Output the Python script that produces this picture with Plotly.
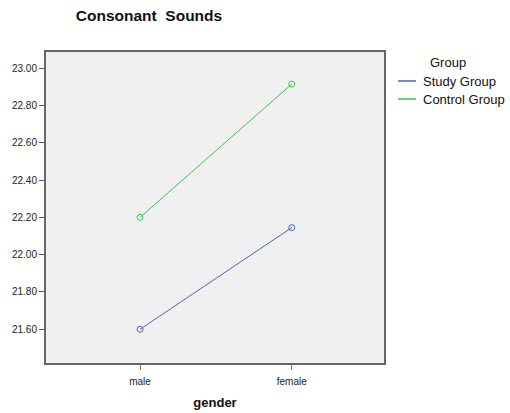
import plotly.graph_objects as go

genders = ["male", "female"]
series_names = ["Study Group", "Control Group"]
study_group = [21.60, 22.145]
control_group = [22.20, 22.915]
colors = ["#4a62c4", "#3cc24a"]
y_ticks = [21.6, 21.8, 22.0, 22.2, 22.4, 22.6, 22.8, 23.0]
y_tick_labels = ["21.60", "21.80", "22.00", "22.20", "22.40", "22.60", "22.80", "23.00"]

W, H = 510, 413
L, R, T, B = 46, 126, 52, 50
pw, ph = W - L - R, H - T - B

def px(x):
    return (x - L) / pw

def py(y):
    return (H - B - y) / ph

fig = go.Figure()
for name, vals, col in zip(series_names, [study_group, control_group], colors):
    fig.add_trace(go.Scatter(
        x=[0, 1], y=vals, name=name, mode="lines+markers", showlegend=False,
        line=dict(color=col, width=1),
        marker=dict(symbol="circle-open", size=6, color=col, line=dict(width=1)),
    ))

shapes = []
annotations = [dict(text="Group", x=px(448), y=py(62), xref="paper", yref="paper",
                    xanchor="center", yanchor="middle", showarrow=False,
                    font=dict(size=13, color="#111"))]
for i, (name, col) in enumerate(zip(series_names, colors)):
    yy = 81 + 18 * i
    shapes.append(dict(type="line", xref="paper", yref="paper",
                       x0=px(398), x1=px(416), y0=py(yy), y1=py(yy),
                       line=dict(color=col, width=1.5)))
    annotations.append(dict(text=name, x=px(421), y=py(yy + 0.5), xref="paper", yref="paper",
                            xanchor="left", yanchor="middle", showarrow=False,
                            font=dict(size=13, color="#111")))

fig.update_layout(
    width=W, height=H,
    margin=dict(l=L, r=R, t=T, b=B, autoexpand=False),
    paper_bgcolor="white", plot_bgcolor="#f0f0f0",
    font=dict(family="Liberation Sans, Arial, sans-serif", color="#222"),
    title=dict(text="<b>Consonant  Sounds</b>", x=149 / W, xanchor="center",
               y=1 - 16 / H, yanchor="middle", font=dict(size=15.5, color="#111")),
    showlegend=False,
    shapes=shapes,
    annotations=annotations,
    xaxis=dict(
        range=[-0.62, 1.608], tickvals=[0, 1], ticktext=genders,
        ticks="outside", ticklen=5, tickcolor="#777", tickwidth=1,
        tickfont=dict(size=10), ticklabelstandoff=3, showgrid=False, zeroline=False,
        showline=True, linecolor="#666", linewidth=2, mirror=True,
        title=dict(text="<b>gender</b>", font=dict(size=13, color="#111"), standoff=12),
    ),
    yaxis=dict(
        range=[21.419, 23.087], tickvals=y_ticks, ticktext=y_tick_labels,
        ticks="outside", ticklen=5, tickcolor="#555", tickwidth=1,
        tickfont=dict(size=10), showgrid=False, zeroline=False,
        showline=True, linecolor="#666", linewidth=2, mirror=True,
    ),
)

fig.write_html("out.html", config={"displayModeBar": False},
               post_script="document.body.style.margin='0px';")
